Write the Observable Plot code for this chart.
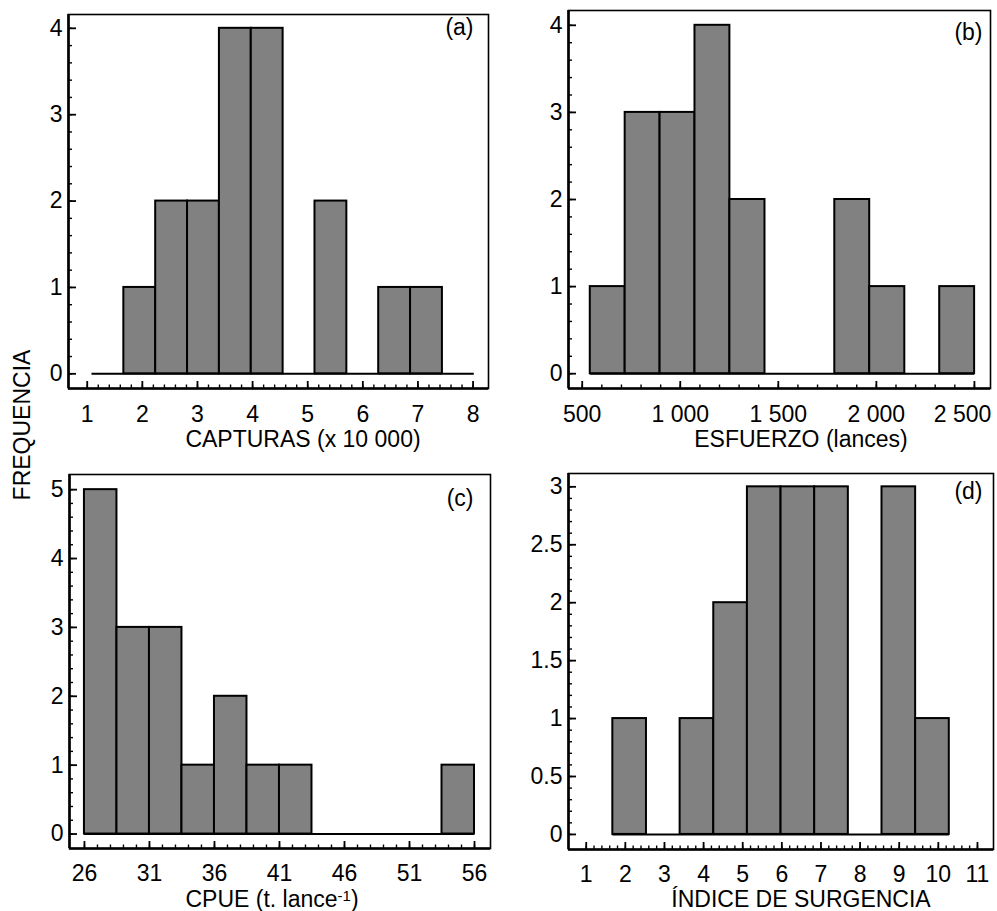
<!DOCTYPE html>
<html>
<head>
<meta charset="utf-8">
<script src="https://cdn.jsdelivr.net/npm/d3@7"></script>
<script src="https://cdn.jsdelivr.net/npm/@observablehq/plot@0.6"></script>
<style>
  html, body { margin: 0; padding: 0; background: #fff; }
  #wrap { position: relative; width: 997px; height: 911px; font-family: "Liberation Sans", Arial, Helvetica, sans-serif; color: #000; }
  .panel { position: absolute; }
  .xlab { position: absolute; font-size: 23px; line-height: 23px; white-space: nowrap; transform: translateX(-50%); }
  .xlab sup { font-size: 15px; line-height: 0; vertical-align: baseline; position: relative; top: -6px; }
  #ylab { position: absolute; left: 22px; top: 425px; font-size: 23px; line-height: 23px; white-space: nowrap; transform: translate(-50%, -50%) rotate(-90deg); }
</style>
</head>
<body>
<div id="wrap">
  <div id="pa" class="panel" style="left:0px;top:0px"></div>
  <div id="pb" class="panel" style="left:497px;top:0px"></div>
  <div id="pc" class="panel" style="left:0px;top:455px"></div>
  <div id="pd" class="panel" style="left:497px;top:455px"></div>
  <div class="xlab" style="left:303px;top:428px">CAPTURAS (x 10 000)</div>
  <div class="xlab" style="left:801px;top:428px">ESFUERZO (lances)</div>
  <div class="xlab" style="left:272px;top:888px">CPUE (t. lance<sup>-1</sup>)</div>
  <div class="xlab" style="left:801px;top:888px">ÍNDICE DE SURGENCIA</div>
  <div id="ylab">FREQUENCIA</div>
</div>
<script>
// ---- Data ----
const panelTags = ["(a)", "(b)", "(c)", "(d)"];

const capturasEdges  = [1.086, 1.664, 2.242, 2.82, 3.398, 3.976, 4.554, 5.132, 5.71, 6.288, 6.866, 7.444, 8.022];
const capturasCounts = [0, 1, 2, 2, 4, 4, 0, 2, 0, 1, 1, 0];
const capturasTicks  = [1, 2, 3, 4, 5, 6, 7, 8];

const esfuerzoEdges  = [541, 719, 897, 1075, 1253, 1432, 1610, 1788, 1966, 2145, 2323, 2501];
const esfuerzoCounts = [1, 3, 3, 4, 2, 0, 0, 2, 1, 0, 1];
const esfuerzoTicks  = [500, 1000, 1500, 2000, 2500];
const esfuerzoTickLabels = ["500", "1 000", "1 500", "2 000", "2 500"];

const cpueEdges  = [26, 28.5, 31, 33.5, 36, 38.5, 41, 43.5, 46, 48.5, 51, 53.5, 56];
const cpueCounts = [5, 3, 3, 1, 2, 1, 1, 0, 0, 0, 0, 1];
const cpueTicks  = [26, 31, 36, 41, 46, 51, 56];

const surgEdges  = [1.68, 2.54, 3.40, 4.26, 5.12, 5.98, 6.84, 7.70, 8.56, 9.42, 10.28];
const surgCounts = [1, 0, 1, 2, 3, 3, 3, 0, 3, 1];
const surgTicks  = [1, 2, 3, 4, 5, 6, 7, 8, 9, 10, 11];

const freqTicksAB = [0, 1, 2, 3, 4];
const freqTicksC  = [0, 1, 2, 3, 4, 5];
const freqTicksD  = [0, 0.5, 1, 1.5, 2, 2.5, 3];

// ---- Drawing ----
function panel(o) {
  const bins = o.counts.map((c, i) => ({x1: o.edges[i], x2: o.edges[i + 1], y: c}));
  const baseline = [{x1: o.edges[0], x2: o.edges[o.edges.length - 1]}];
  const W = o.width - o.ml - o.mr;
  const H = o.height - o.mt - o.mb;
  const xMinor = d3.range(o.xMinor[0], o.xMinor[1] + o.xMinor[2] / 2, o.xMinor[2]);
  const yMinor = d3.range(o.yMinor[0], o.yMinor[1] + o.yMinor[2] / 2, o.yMinor[2]);
  const mainTicks = o.lastEnd ? o.xTicks.slice(0, -1) : o.xTicks;
  const marks = [
    Plot.ruleY(baseline, {y: 0, x1: "x1", x2: "x2", stroke: "#000", strokeWidth: 2}),
    Plot.rectY(bins.filter(d => d.y > 0), {x1: "x1", x2: "x2", y1: 0, y2: "y", fill: "#818181", stroke: "#000", strokeWidth: 2}),
    Plot.frame({stroke: "#000", strokeWidth: 1.6}),
    Plot.ruleX([o.xDomain[0]], {stroke: "#000", strokeWidth: 2.6}),
    Plot.ruleY([o.yDomain[0]], {stroke: "#000", strokeWidth: 2.6}),
    Plot.tickX(xMinor, {x: d => d, stroke: "#000", strokeWidth: 1.4, insetTop: H - 3.5}),
    Plot.tickX(o.xTicks, {x: d => d, stroke: "#000", strokeWidth: 1.8, insetTop: H - 7}),
    Plot.tickY(yMinor, {y: d => d, stroke: "#000", strokeWidth: 1.4, insetRight: W - 4}),
    Plot.tickY(o.yTicks, {y: d => d, stroke: "#000", strokeWidth: 1.8, insetRight: W - 8}),
    Plot.axisX(mainTicks, {tickSize: 0, tickPadding: o.xPad, tickFormat: o.xFormat, label: null, fontSize: 23}),
    Plot.axisY(o.yTicks, {tickSize: 0, tickPadding: 6, tickFormat: d => String(d), label: null, fontSize: 23}),
    Plot.text([o.tag], {frameAnchor: "top-right", text: d => d, dx: -o.tagDx, dy: o.tagDy, lineAnchor: "top", textAnchor: "end", fontSize: 23})
  ];
  if (o.lastEnd) {
    marks.push(Plot.axisX(o.xTicks.slice(-1), {tickSize: 0, tickPadding: o.xPad, tickFormat: o.xFormat, label: null, fontSize: 23, textAnchor: "end", dx: o.lastEnd}));
  }
  return Plot.plot({
    width: o.width, height: o.height,
    marginLeft: o.ml, marginRight: o.mr, marginTop: o.mt, marginBottom: o.mb,
    style: {fontFamily: '"Liberation Sans", Arial, Helvetica, sans-serif', fontSize: "23px", color: "#000", background: "transparent", overflow: "visible"},
    x: {domain: o.xDomain},
    y: {domain: o.yDomain},
    marks
  });
}

document.getElementById("pa").appendChild(panel({
  edges: capturasEdges, counts: capturasCounts, xTicks: capturasTicks, xFormat: d => String(d),
  xMinor: [1, 8, 0.2], yTicks: freqTicksAB, yMinor: [0, 4, 0.2],
  xDomain: [0.66, 8.28], yDomain: [-0.17, 4.16],
  width: 497, height: 455, ml: 68, mr: 9, mt: 14, mb: 67, xPad: 17,
  tag: panelTags[0], tagDx: 15, tagDy: 4
}));

document.getElementById("pb").appendChild(panel({
  edges: esfuerzoEdges, counts: esfuerzoCounts, xTicks: esfuerzoTicks,
  xFormat: d => esfuerzoTickLabels[esfuerzoTicks.indexOf(d)],
  xMinor: [500, 2500, 100], yTicks: freqTicksAB, yMinor: [0, 4, 0.2],
  xDomain: [430, 2582], yDomain: [-0.17, 4.17],
  width: 500, height: 455, ml: 71, mr: 7, mt: 10, mb: 67, xPad: 17,
  tag: panelTags[1], tagDx: 8, tagDy: 13, lastEnd: 17
}));

document.getElementById("pc").appendChild(panel({
  edges: cpueEdges, counts: cpueCounts, xTicks: cpueTicks, xFormat: d => String(d),
  xMinor: [26, 56, 1], yTicks: freqTicksC, yMinor: [0, 5, 0.2],
  xDomain: [24.85, 57.23], yDomain: [-0.21, 5.22],
  width: 497, height: 456, ml: 69, mr: 7, mt: 19, mb: 63, xPad: 16,
  tag: panelTags[2], tagDx: 17, tagDy: 15
}));

document.getElementById("pd").appendChild(panel({
  edges: surgEdges, counts: surgCounts, xTicks: surgTicks, xFormat: d => String(d),
  xMinor: [1, 11, 0.2], yTicks: freqTicksD, yMinor: [0, 3, 0.1],
  xDomain: [0.547, 11.41], yDomain: [-0.13, 3.115],
  width: 500, height: 456, ml: 71, mr: 4, mt: 18, mb: 62, xPad: 16,
  tag: panelTags[3], tagDx: 11, tagDy: 9
}));
</script>
</body>
</html>
